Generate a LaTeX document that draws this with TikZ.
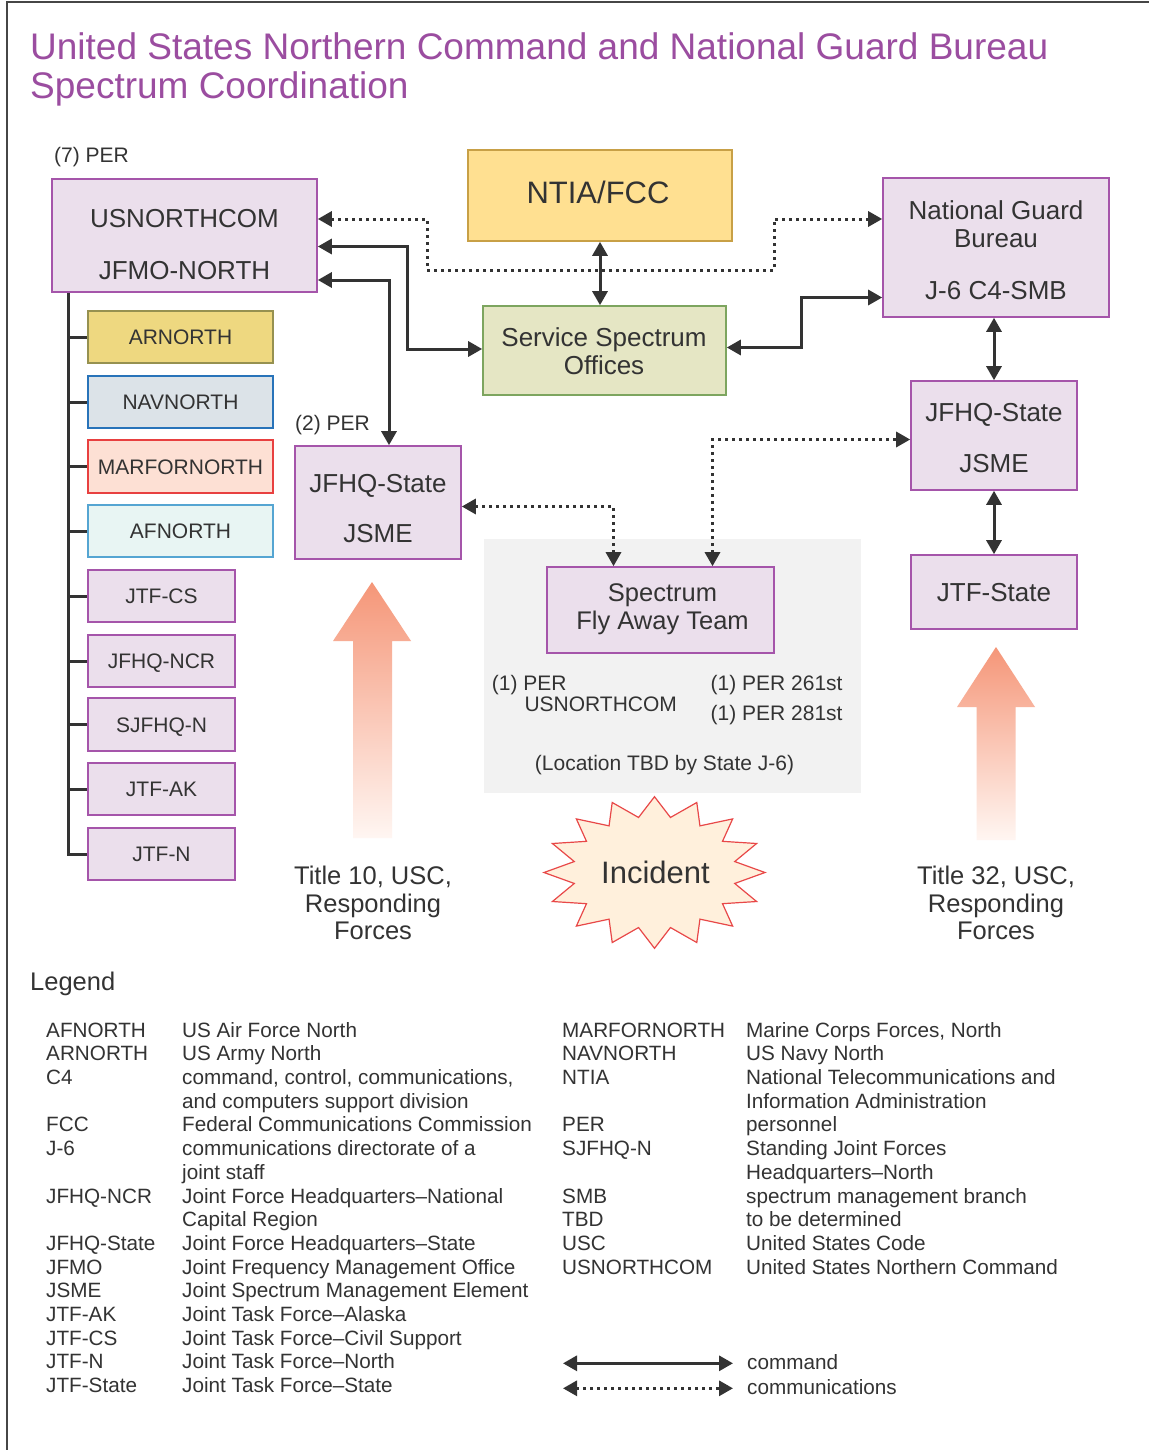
\documentclass[tikz,border=0pt]{standalone}
\usepackage{fontspec}
\setmainfont{Liberation Sans}
\usetikzlibrary{arrows.meta}
\definecolor{ttl}{RGB}{155,77,160}
\definecolor{dk}{RGB}{51,51,51}
\definecolor{pfl}{RGB}{235,223,236}
\definecolor{pbd}{RGB}{165,85,170}
\definecolor{arfl}{RGB}{238,216,128}
\definecolor{arbd}{RGB}{150,145,80}
\definecolor{navfl}{RGB}{220,227,232}
\definecolor{navbd}{RGB}{40,115,185}
\definecolor{marfl}{RGB}{253,224,212}
\definecolor{marbd}{RGB}{232,64,64}
\definecolor{affl}{RGB}{232,245,243}
\definecolor{afbd}{RGB}{85,165,210}
\definecolor{ntfl}{RGB}{255,224,145}
\definecolor{ntbd}{RGB}{200,160,70}
\definecolor{ssfl}{RGB}{229,230,196}
\definecolor{ssbd}{RGB}{125,165,95}
\definecolor{gry}{RGB}{242,242,242}
\definecolor{incfl}{RGB}{255,240,220}
\definecolor{incbd}{RGB}{232,72,72}
\definecolor{sal}{RGB}{245,150,120}
\definecolor{salb}{RGB}{255,246,242}
\definecolor{brd}{RGB}{70,70,70}
\begin{document}
\begin{tikzpicture}[x=1pt,y=-1pt,
  bx/.style={rectangle, draw=pbd, fill=pfl, line width=1.6pt, inner sep=0pt},
  t21/.style={inner sep=0pt, text=dk, font=\fontsize{21}{24}\selectfont, text height=15pt, text depth=0pt},
  t20/.style={inner sep=0pt, text=dk, font=\fontsize{20.7}{23.7}\selectfont, text height=14.8pt, text depth=0pt},
  t25/.style={inner sep=0pt, text=dk, font=\fontsize{25.5}{28}\selectfont, text height=18.3pt, text depth=0pt},
  t26/.style={inner sep=0pt, text=dk, font=\fontsize{26}{28}\selectfont, text height=18.6pt, text depth=0pt},
  t31/.style={inner sep=0pt, text=dk, font=\fontsize{31}{34}\selectfont, text height=22.2pt, text depth=0pt},
  ttlf/.style={inner sep=0pt, text=ttl, font=\fontsize{37}{39}\selectfont, anchor=base west},
  cmdline/.style={draw=dk, line width=3pt, {Triangle[length=14pt,width=15pt]}-{Triangle[length=14pt,width=15pt]}},
  commline/.style={cmdline, dash pattern=on 3pt off 4pt},
  trunk/.style={draw=dk, line width=3pt},
  legtab/.style={anchor=north west, inner sep=0pt, text=dk, font=\fontsize{20.7}{23.7}\selectfont}
]
\useasboundingbox (0,0) rectangle (1149,1450);
\fill[white] (0,0) rectangle (1149,1450);
\draw[line width=2pt, draw=brd] (6.5,1450) -- (6.5,2.5) -- (1149,2.5);

% title
\node[ttlf] (title1) at (30,60) {United States Northern Command and National Guard Bureau};
\node[ttlf] (title2) at (30,99) {Spectrum Coordination};

% gray zone
\node[rectangle, fill=gry, inner sep=0pt, minimum width=376.7pt, minimum height=253.7pt] (zone) at (672.3,665.9) {};

% USNORTHCOM
\node[t21, anchor=west] (per7) at (54,155) {(7) PER};
\node[bx, minimum width=265pt, minimum height=113pt] (usn) at (184.5,235.5) {};
\node[t26] (usnA) at (184.5,218.5) {USNORTHCOM};
\node[t26] (usnB) at (184.5,270) {JFMO-NORTH};

% components
\node[bx, t21, draw=arbd, fill=arfl, minimum width=185pt, minimum height=52pt] (arn) at (180.5,337) {ARNORTH};
\node[bx, t21, draw=navbd, fill=navfl, minimum width=185pt, minimum height=52pt] (nav) at (180.5,402) {NAVNORTH};
\node[bx, t21, draw=marbd, fill=marfl, minimum width=185pt, minimum height=53pt] (mar) at (180.5,466.5) {MARFORNORTH};
\node[bx, t21, draw=afbd, fill=affl, minimum width=185pt, minimum height=52pt] (afn) at (180.5,531) {AFNORTH};
\node[bx, t21, minimum width=147pt, minimum height=52pt] (jcs) at (161.5,596) {JTF-CS};
\node[bx, t21, minimum width=147pt, minimum height=52pt] (jncr) at (161.5,661) {JFHQ-NCR};
\node[bx, t21, minimum width=147pt, minimum height=53pt] (sjf) at (161.5,724.5) {SJFHQ-N};
\node[bx, t21, minimum width=147pt, minimum height=52pt] (jak) at (161.5,789) {JTF-AK};
\node[bx, t21, minimum width=147pt, minimum height=52pt] (jtn) at (161.5,854) {JTF-N};

\coordinate (trk) at ([xshift=17pt]usn.south west);
\draw[trunk] (trk) |- (jtn.west);
\foreach \n in {arn,nav,mar,afn,jcs,jncr,sjf,jak}
  \draw[trunk] (\n.west -| trk) -- (\n.west);

% NTIA/FCC
\node[bx, draw=ntbd, fill=ntfl, minimum width=264pt, minimum height=91pt] (ntia) at (600,195.5) {};
\node[t31] (ntiaT) at (598,192.7) {NTIA/FCC};

% NGB
\node[bx, minimum width=226pt, minimum height=139pt] (ngb) at (996,247.5) {};
\node[t26] (ngbA) at (996,210) {National Guard};
\node[t26] (ngbB) at (996,238.3) {Bureau};
\node[t26] (ngbC) at (996,290) {J-6 C4-SMB};

% Service Spectrum Offices
\node[bx, draw=ssbd, fill=ssfl, minimum width=243pt, minimum height=89pt] (sso) at (604.5,350.5) {};
\node[t26] (ssoA) at (604,337.3) {Service Spectrum};
\node[t26] (ssoB) at (604,365) {Offices};

% JFHQ-State left
\node[t21, anchor=west] (per2) at (295,423.3) {(2) PER};
\node[bx, minimum width=166pt, minimum height=113pt] (jl) at (378,502.5) {};
\node[t26] (jlA) at (378,482.7) {JFHQ-State};
\node[t26] (jlB) at (378,532.7) {JSME};

% JFHQ-State right
\node[bx, minimum width=166pt, minimum height=109pt] (jr) at (994,435.5) {};
\node[t26] (jrA) at (994,411.7) {JFHQ-State};
\node[t26] (jrB) at (994,462.7) {JSME};

% JTF-State
\node[bx, t26, minimum width=166pt, minimum height=74pt] (jts) at (994,592) {JTF-State};

% Spectrum Fly Away Team
\node[bx, minimum width=227pt, minimum height=86pt] (sfat) at (660.5,610) {};
\node[t25] (sfatA) at (662.5,592.7) {Spectrum};
\node[t25] (sfatB) at (662.5,620) {Fly Away Team};
\node[t21, anchor=west] (p1a) at (491.7,682.7) {(1) PER};
\node[t21, anchor=west] (p1b) at (524.3,704) {USNORTHCOM};
\node[t21, anchor=west] (p261) at (710.5,682.7) {(1) PER 261st};
\node[t21, anchor=west] (p281) at (710.5,713.3) {(1) PER 281st};
\node[t21] (loc) at (664.5,763.3) {(Location TBD by State J-6)};

% connectors
\draw[commline] ([yshift=16.5pt]usn.east) -- (427,219) -- (427,270) -- (774,270) -- (774,219) -- ([yshift=28.5pt]ngb.west);
\draw[cmdline] (ntia.south) -- (ntia.south |- sso.north);
\draw[cmdline] ([yshift=-11pt]usn.east) -- (407,246.5) |- ([yshift=1.5pt]sso.west);
\draw[cmdline] ([yshift=-44.5pt]usn.east) -| ([xshift=11pt]jl.north);
\draw[cmdline] ([yshift=3pt]sso.east) -- (801,347.5) |- ([yshift=-50pt]ngb.west);
\draw[cmdline] (ngb.south -| jr.north) -- (jr.north);
\draw[cmdline] (jr.south) -- (jts.north);
\draw[commline] ([yshift=-4pt]jl.east) -| ([xshift=-47pt]sfat.north);
\draw[commline] ([xshift=52pt]sfat.north) |- ([yshift=-4pt]jr.west);

% big arrows
\shade[top color=sal, bottom color=salb] (372,582) -- (411,641) -- (392,641) -- (392,838) -- (353,838) -- (353,641) -- (333,641) -- cycle;
\shade[top color=sal, bottom color=salb] (996,647) -- (1035,707) -- (1015.5,707) -- (1015.5,840) -- (976.5,840) -- (976.5,707) -- (957,707) -- cycle;
\node[t25] (t10a) at (373,875) {Title 10, USC,};
\node[t25] (t10b) at (373,903.3) {Responding};
\node[t25] (t10c) at (373,930.5) {Forces};
\node[t25] (t32a) at (996,875) {Title 32, USC,};
\node[t25] (t32b) at (996,903.3) {Responding};
\node[t25] (t32c) at (996,930.5) {Forces};

% incident star
\begin{scope}[shift={(654.5,872.5)}]
\draw[draw=incbd, fill=incfl, line width=1.2pt] (0,-75.8)
  \foreach \i [evaluate=\i as \px using {(110.5-28.7*mod(\i,2))*cos(90+11.25*\i)},
               evaluate=\i as \py using {-(75.8-19.7*mod(\i,2))*sin(90+11.25*\i)}] in {1,...,31} { -- (\px,\py) } -- cycle;
\end{scope}
\node[t31] (inc) at (655.5,872.3) {Incident};

% legend
\node[t25, anchor=west] (leghead) at (30,981.7) {Legend};
\node[legtab] (legL) at (46,1020.3) {\begin{tabular}{@{}p{136pt}@{}l@{}}
AFNORTH & US Air Force North\\
ARNORTH & US Army North\\
C4 & command, control, communications,\\
 & and computers support division\\
FCC & Federal Communications Commission\\
J-6 & communications directorate of a\\
 & joint staff\\
JFHQ-NCR & Joint Force Headquarters\textendash National\\
 & Capital Region\\
JFHQ-State & Joint Force Headquarters\textendash State\\
JFMO & Joint Frequency Management Office\\
JSME & Joint Spectrum Management Element\\
JTF-AK & Joint Task Force\textendash Alaska\\
JTF-CS & Joint Task Force\textendash Civil Support\\
JTF-N & Joint Task Force\textendash North\\
JTF-State & Joint Task Force\textendash State
\end{tabular}};
\node[legtab] (legR) at (562,1020.3) {\begin{tabular}{@{}p{184pt}@{}l@{}}
MARFORNORTH & Marine Corps Forces, North\\
NAVNORTH & US Navy North\\
NTIA & National Telecommunications and\\
 & Information Administration\\
PER & personnel\\
SJFHQ-N & Standing Joint Forces\\
 & Headquarters\textendash North\\
SMB & spectrum management branch\\
TBD & to be determined\\
USC & United States Code\\
USNORTHCOM & United States Northern Command
\end{tabular}};
\coordinate (lc1) at (563,1363.3);
\coordinate (lc2) at (733,1363.3);
\coordinate (lm1) at (563,1388.3);
\coordinate (lm2) at (733,1388.3);
\draw[cmdline] (lc1) -- (lc2);
\draw[commline] (lm1) -- (lm2);
\node[t20, anchor=west] (legcmd) at (747,1361.7) {command};
\node[t20, anchor=west] (legcom) at (747,1386.7) {communications};
\end{tikzpicture}
\end{document}
